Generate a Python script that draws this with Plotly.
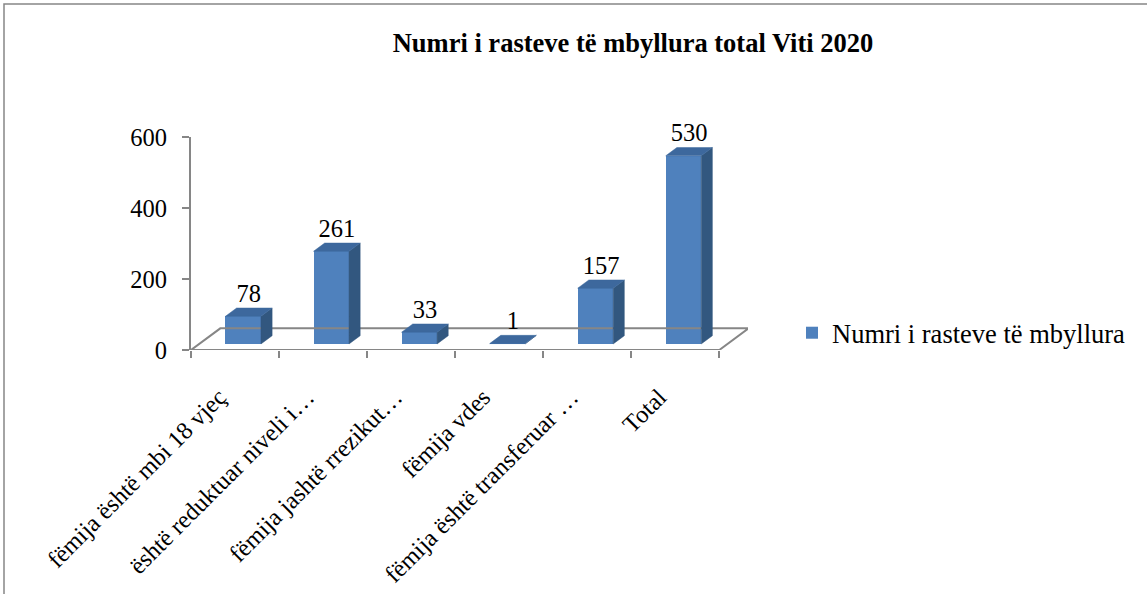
import plotly.graph_objects as go

# ---------------- data ----------------
categories = [
    "fëmija është mbi 18 vjeç",
    "është reduktuar niveli i…",
    "fëmija jashtë rrezikut…",
    "fëmija vdes",
    "fëmija është transferuar …",
    "Total",
]
values = [78, 261, 33, 1, 157, 530]
series_name = "Numri i rasteve të mbyllura"
title_text = "Numri i rasteve të mbyllura total Viti 2020"
y_ticks = [0, 200, 400, 600]

# ---------------- layout / style constants ----------------
W, H = 1147, 594
ML, MR, MT, MB = 191, 399, 137, 244
PW, PH = W - ML - MR, H - MT - MB
X_RANGE = [-0.5, 5.826]
Y_RANGE = [0, 600]
DEPTH_X, DEPTH_Y = 0.333, 61.0       # floor depth (category units, value units)
F_FRONT, F_BACK = 0.28, 0.66         # depth fractions of bar front/back
BAR_W = 0.403

FRONT = "#4F81BD"
TOP = "#3D689D"
SIDE = "#32577F"
GRAY = "#868686"
FONT = "Liberation Serif"
FS_BIG = 26.5     # title, legend
FS = 24.5         # axis tick labels, data labels

n = len(values)
idx = list(range(n))
fx, fy = F_FRONT * DEPTH_X, F_FRONT * DEPTH_Y
bx, by = (F_BACK - F_FRONT) * DEPTH_X, (F_BACK - F_FRONT) * DEPTH_Y

fig = go.Figure()

# floor outline
floor_x = [-0.5, n - 0.5, n - 0.5 + DEPTH_X, -0.5 + DEPTH_X, -0.5]
floor_y = [0, 0, DEPTH_Y, DEPTH_Y, 0]
fig.add_trace(go.Scatter(x=floor_x, y=floor_y, mode="lines",
                         line=dict(color=GRAY, width=2), showlegend=False,
                         hoverinfo="skip"))

# side and top faces
side_x, side_y, top_x, top_y = [], [], [], []
for i, v in zip(idx, values):
    x0 = i + fx - BAR_W / 2
    x1 = x0 + BAR_W
    yb = fy
    yt = fy + v
    side_x += [x1, x1 + bx, x1 + bx, x1, x1, None]
    side_y += [yb, yb + by, yt + by, yt, yb, None]
    top_x += [x0, x1, x1 + bx, x0 + bx, x0, None]
    top_y += [yt, yt, yt + by, yt + by, yt, None]

fig.add_trace(go.Scatter(x=side_x, y=side_y, mode="lines", fill="toself",
                         fillcolor=SIDE, line=dict(color=SIDE, width=0.5),
                         showlegend=False, hoverinfo="skip"))
fig.add_trace(go.Scatter(x=top_x, y=top_y, mode="lines", fill="toself",
                         fillcolor=TOP, line=dict(color=TOP, width=0.5),
                         showlegend=False, hoverinfo="skip"))

# data labels
fig.add_trace(go.Scatter(x=[i + fx + bx / 2 for i in idx],
                         y=[fy + v + by for v in values],
                         mode="text", text=[str(v) for v in values],
                         textposition="top center",
                         textfont=dict(family=FONT, size=FS, color="black"),
                         cliponaxis=False, showlegend=False, hoverinfo="skip"))

# front faces
fig.add_trace(go.Bar(x=[i + fx for i in idx], y=values, base=fy, width=BAR_W,
                     marker=dict(color=FRONT, line=dict(width=0)),
                     name=series_name, showlegend=True))

# chart-area border (top and left visible)
BORDER_L, BORDER_T = 4, 4
fig.add_shape(type="rect", xref="paper", yref="paper",
              x0=(BORDER_L - ML) / PW, x1=(W + 10 - ML) / PW,
              y0=(H - MB - (H + 10)) / PH, y1=(H - MB - BORDER_T) / PH,
              line=dict(color=GRAY, width=1.5), layer="below")

LEG_LEFT, LEG_MID = 792, 333
fig.update_layout(
    width=W, height=H,
    margin=dict(l=ML, r=MR, t=MT, b=MB, pad=0, autoexpand=False),
    paper_bgcolor="white", plot_bgcolor="white",
    font=dict(family=FONT, size=FS, color="black"),
    title=dict(text="<b>" + title_text + "</b>", x=633 / W, xref="container",
               xanchor="center", y=1 - 43 / H, yref="container",
               yanchor="middle", font=dict(family=FONT, size=FS_BIG, color="black")),
    showlegend=True,
    legend=dict(x=(LEG_LEFT - ML) / PW, y=(H - MB - LEG_MID) / PH,
                xanchor="left", yanchor="middle",
                font=dict(family=FONT, size=FS_BIG, color="black"),
                bgcolor="rgba(0,0,0,0)", itemwidth=30),
    xaxis=dict(range=X_RANGE, tickmode="array", tickvals=idx, ticktext=categories,
               ticks="", tickangle=-45, showgrid=False, zeroline=False,
               showline=False, tickfont=dict(family=FONT, size=FS),
               ticklabelstandoff=27, ticklabelshift=-16, automargin=False,
               minor=dict(tickmode="array", tickvals=[k - 0.5 for k in range(n + 1)],
                          ticks="outside", ticklen=7, tickcolor=GRAY, tickwidth=2,
                          showgrid=False)),
    yaxis=dict(range=Y_RANGE, tickmode="array", tickvals=y_ticks,
               ticks="outside", ticklen=7, tickcolor=GRAY, tickwidth=2,
               showline=True, linecolor=GRAY, linewidth=2, showgrid=False,
               zeroline=False, tickfont=dict(family=FONT, size=FS),
               ticklabelstandoff=10, automargin=False),
    bargap=0,
)

fig.write_html("out.html", config={"displayModeBar": False},
               post_script="document.body.style.margin='0';")
